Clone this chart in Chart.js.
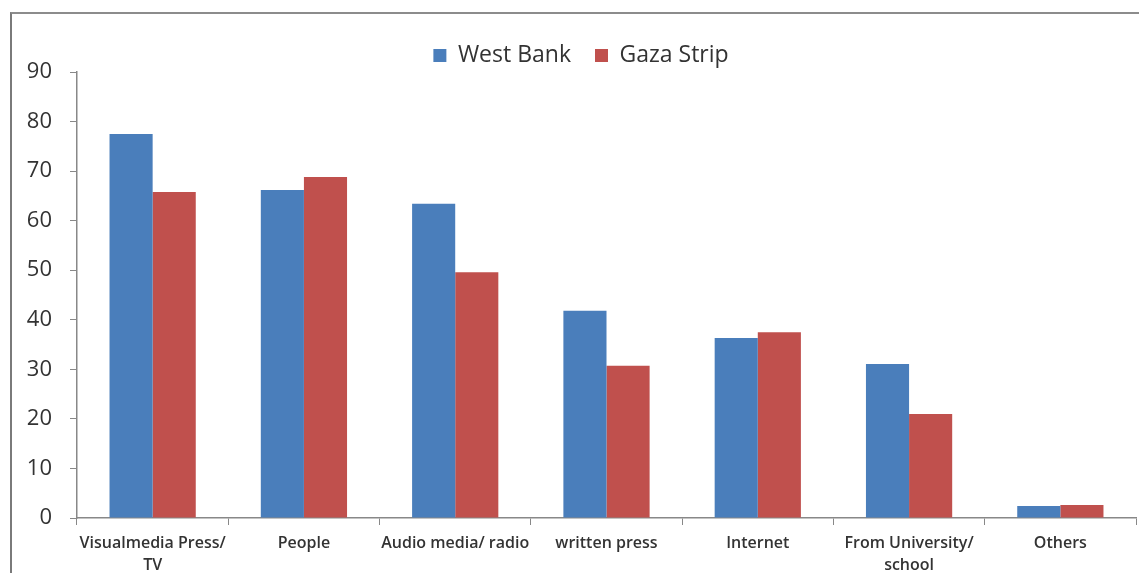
<!DOCTYPE html>
<html>
<head>
<meta charset="utf-8">
<script src="https://cdn.jsdelivr.net/npm/chart.js@4"></script>
<style>
    html, body { margin: 0; padding: 0; background: #fff; }
    #frame {
        position: absolute;
        left: 10px;
        top: 12px;
        width: 1129px;
        height: 561px;
        border-top: 2px solid #8c8c8c;
        border-left: 2px solid #7a7a7a;
    }
    #chart { display: block; }
</style>
</head>
<body>
<div id="frame">
    <canvas id="chart" width="1127" height="559"></canvas>
</div>
<script>
    // categories and series
    const categories = [
        ["Visualmedia Press/", "TV"],
        "People",
        "Audio media/ radio",
        "written press",
        "Internet",
        ["From University/", "school"],
        "Others",
    ];
    const westBank = [77.5, 66.2, 63.4, 41.8, 36.3, 31.1, 2.4];
    const gazaStrip = [65.8, 68.8, 49.6, 30.7, 37.5, 21.0, 2.6];
    const yTicks = [0, 10, 20, 30, 40, 50, 60, 70, 80, 90];

    const fontFamily = "'Open Sans', 'Liberation Sans', sans-serif";

    // keep the legend box short while items stay spaced apart,
    // and nudge it a little right like the original
    const legendTweak = {
        id: "legendTweak",
        beforeLayout(chart) {
            const lg = chart.legend;
            if (lg && !lg._patched) {
                const fit = lg.fit;
                lg.fit = function () {
                    fit.call(this);
                    this.height = 52;
                };
                lg._patched = true;
            }
        },
        afterLayout(chart) {
            const lg = chart.legend;
            if (lg) {
                lg.left += 7;
                lg.right += 7;
            }
        },
    };

    const ctx = document.getElementById("chart").getContext("2d");
    const chart = new Chart(ctx, {
        type: "bar",
        data: {
            labels: categories,
            datasets: [
                {
                    label: "West Bank",
                    data: westBank,
                    backgroundColor: "#4a7ebb",
                    categoryPercentage: 0.57,
                    barPercentage: 1.0,
                },
                {
                    label: "Gaza Strip",
                    data: gazaStrip,
                    backgroundColor: "#c0504d",
                    categoryPercentage: 0.57,
                    barPercentage: 1.0,
                },
            ],
        },
        plugins: [legendTweak],
        options: {
            responsive: false,
            devicePixelRatio: 1,
            animation: false,
            layout: {
                padding: { top: 6, right: 3, left: 0, bottom: 0 },
            },
            plugins: {
                tooltip: { enabled: false },
                legend: {
                    position: "top",
                    labels: {
                        boxWidth: 13,
                        boxHeight: 13,
                        padding: 24,
                        color: "#333",
                        font: { family: fontFamily, size: 23 },
                    },
                },
            },
            scales: {
                x: {
                    grid: {
                        drawOnChartArea: false,
                        drawTicks: true,
                        tickLength: 7,
                        color: "#888",
                    },
                    border: { color: "#888", width: 1.5 },
                    ticks: {
                        color: "#333",
                        maxRotation: 0,
                        autoSkip: false,
                        padding: 7,
                        font: { family: fontFamily, size: 16, weight: "600", lineHeight: 1.4 },
                    },
                    afterFit: (scale) => {
                        scale.height = 55;
                    },
                },
                y: {
                    min: 0,
                    max: 90,
                    afterBuildTicks: (scale) => {
                        scale.ticks = yTicks.map((v) => ({ value: v }));
                    },
                    grid: {
                        drawOnChartArea: false,
                        drawTicks: true,
                        tickLength: 7,
                        color: "#888",
                    },
                    border: { color: "#888", width: 1.5 },
                    ticks: {
                        color: "#333",
                        padding: 18,
                        font: { family: fontFamily, size: 22 },
                    },
                    afterFit: (scale) => {
                        scale.width = 65;
                    },
                },
            },
        },
    });
</script>
</body>
</html>
